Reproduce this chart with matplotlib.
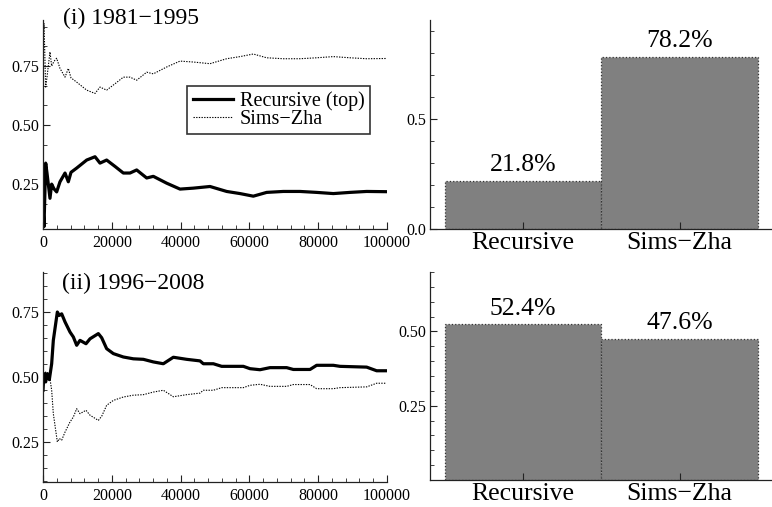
import matplotlib
matplotlib.use("Agg")
import matplotlib.pyplot as plt
from matplotlib.ticker import MultipleLocator, FixedLocator

plt.rcParams['font.family'] = ['Liberation Serif', 'DejaVu Serif']
plt.rcParams['mathtext.fontset'] = 'stix'

# ---- cumulative posterior probability, 1981-1995 ----
draws_i = [0, 290, 775, 1160, 2030, 2520, 3200, 3970, 4940, 6400, 7360, 8140,
           9790, 12700, 15120, 16570, 18500, 20930, 23350, 25290, 27230,
           30140, 32070, 35950, 39830, 43700, 48550, 53390, 57270, 61140,
           65020, 69860, 74710, 79550, 84400, 89240, 94090, 99710]
recursive_i = [0.154, 0.070, 0.339, 0.297, 0.190, 0.250, 0.230, 0.217, 0.260,
               0.297, 0.260, 0.300, 0.318, 0.352, 0.366, 0.339, 0.352, 0.325,
               0.297, 0.297, 0.310, 0.276, 0.283, 0.254, 0.229, 0.233, 0.240,
               0.219, 0.210, 0.199, 0.215, 0.219, 0.219, 0.215, 0.210, 0.215,
               0.219, 0.218]
simszha_i = [0.846, 0.930, 0.661, 0.703, 0.810, 0.750, 0.770, 0.783, 0.740,
             0.703, 0.740, 0.700, 0.682, 0.648, 0.634, 0.661, 0.648, 0.675,
             0.703, 0.703, 0.690, 0.724, 0.717, 0.746, 0.771, 0.767, 0.760,
             0.781, 0.790, 0.801, 0.785, 0.781, 0.781, 0.785, 0.790, 0.785,
             0.781, 0.782]

# ---- cumulative posterior probability, 1996-2008 ----
draws_ii = [0, 290, 775, 1260, 1840, 2520, 3000, 4170, 4750, 5430, 6400,
            7850, 8820, 9790, 10760, 12500, 13670, 16090, 17060, 18500,
            20450, 23350, 26260, 29170, 32070, 34980, 37890, 41760, 45640,
            46610, 49520, 51940, 58240, 60180, 63080, 65990, 70830, 72770,
            77620, 79550, 84400, 86340, 94090, 96990, 99710]
recursive_ii = [0.449, 0.513, 0.481, 0.513, 0.490, 0.551, 0.641, 0.750, 0.737,
                0.743, 0.712, 0.673, 0.654, 0.622, 0.641, 0.628, 0.647, 0.667,
                0.651, 0.609, 0.590, 0.577, 0.570, 0.568, 0.558, 0.551, 0.576,
                0.568, 0.562, 0.551, 0.551, 0.541, 0.541, 0.532, 0.528, 0.536,
                0.536, 0.529, 0.529, 0.545, 0.545, 0.541, 0.538, 0.524, 0.524]
simszha_ii = [0.551, 0.487, 0.519, 0.487, 0.510, 0.449, 0.359, 0.250, 0.263,
              0.257, 0.288, 0.327, 0.346, 0.378, 0.359, 0.372, 0.353, 0.333,
              0.349, 0.391, 0.410, 0.423, 0.430, 0.432, 0.442, 0.449, 0.424,
              0.432, 0.438, 0.449, 0.449, 0.459, 0.459, 0.468, 0.472, 0.464,
              0.464, 0.471, 0.471, 0.455, 0.455, 0.459, 0.462, 0.476, 0.476]

# ---- final shares ----
models = ["Recursive", "Sims\u2212Zha"]
share_i = [0.218, 0.782]
share_ii = [0.524, 0.476]

series_labels = ["Recursive (top)", "Sims\u2212Zha"]
titles = ["(i) 1981\u22121995", "(ii) 1996\u22122008"]

W, H = 772, 507
fig = plt.figure(figsize=(W / 100, H / 100), dpi=100)


def px_axes(x0, y0, x1, y1):
    return fig.add_axes([x0 / W, 1 - y1 / H, (x1 - x0) / W, (y1 - y0) / H])


def style_axes(ax):
    for s in ("top", "right"):
        ax.spines[s].set_visible(False)
    for s in ("left", "bottom"):
        ax.spines[s].set_linewidth(0.9)
        ax.spines[s].set_color("#222222")
    ax.tick_params(which="both", direction="in", color="#222222", labelsize=11.5)
    ax.tick_params(which="major", length=5, width=0.8)
    ax.tick_params(which="minor", length=3, width=0.6)
    ax.tick_params(axis="y", pad=3)
    ax.tick_params(axis="x", pad=4)


def line_panel(ax, x, rec, sz, ylim, yminor, legend=False):
    style_axes(ax)
    ax.plot(x, rec, color="black", lw=2.3, solid_joinstyle="round",
            label=series_labels[0])
    ax.plot(x, sz, color="black", lw=0.8, linestyle=(0, (1.2, 1.2)),
            label=series_labels[1])
    ax.set_xlim(0, 100000)
    ax.set_ylim(*ylim)
    ax.xaxis.set_major_locator(MultipleLocator(20000))
    ax.xaxis.set_minor_locator(MultipleLocator(4000))
    ax.yaxis.set_major_locator(FixedLocator([0.25, 0.5, 0.75]))
    ax.yaxis.set_minor_locator(MultipleLocator(yminor))
    ax.set_yticklabels(["0.25", "0.50", "0.75"])
    if legend:
        leg = ax.legend(loc="upper left", bbox_to_anchor=(0.42, 0.684),
                        borderaxespad=0, fontsize=14.5, fancybox=False,
                        framealpha=1, edgecolor="#333333", handlelength=2.0,
                        handletextpad=0.35, labelspacing=-0.05, borderpad=0.25)
        leg.get_frame().set_linewidth(1.2)


def bar_panel(ax, shares, ylim, majors, labels, minor):
    style_axes(ax)
    pos = list(range(len(models)))
    bars = ax.bar(pos, shares, width=1.0, color="#808080",
                  edgecolor="#333333", linewidth=0.9, linestyle=":")
    for b, v in zip(bars, shares):
        ax.annotate(f"{v * 100:.1f}%", (b.get_x() + b.get_width() / 2, v),
                    xytext=(0, 7), textcoords="offset points",
                    ha="center", va="baseline", fontsize=18.5)
    ax.set_xlim(-0.596, 1.59)
    ax.set_ylim(*ylim)
    ax.set_xticks(pos)
    ax.set_xticklabels(models, fontsize=18.5)
    ax.tick_params(axis="x", pad=2)
    ax.yaxis.set_major_locator(FixedLocator(majors))
    ax.set_yticklabels(labels)
    ax.yaxis.set_minor_locator(MultipleLocator(minor))


ax1 = px_axes(43, 20, 387, 229)
line_panel(ax1, draws_i, recursive_i, simszha_i, (0.06, 0.945), 0.25 / 3,
           legend=True)
ax2 = px_axes(430, 20, 772, 229)
bar_panel(ax2, share_i, (0, 0.95), [0.0, 0.5], ["0.0", "0.5"], 0.1)

ax3 = px_axes(43, 272, 387, 482)
line_panel(ax3, draws_ii, recursive_ii, simszha_ii, (0.096, 0.904), 0.05)
ax4 = px_axes(430, 272, 772, 480)
bar_panel(ax4, share_ii, (0, 0.70), [0.25, 0.5], ["0.25", "0.50"], 0.05)

fig.text(63 / W, 1 - 24 / H, titles[0], fontsize=17, va="baseline", ha="left")
fig.text(62 / W, 1 - 289 / H, titles[1], fontsize=17, va="baseline", ha="left")

fig.savefig("out.png", dpi=100)
